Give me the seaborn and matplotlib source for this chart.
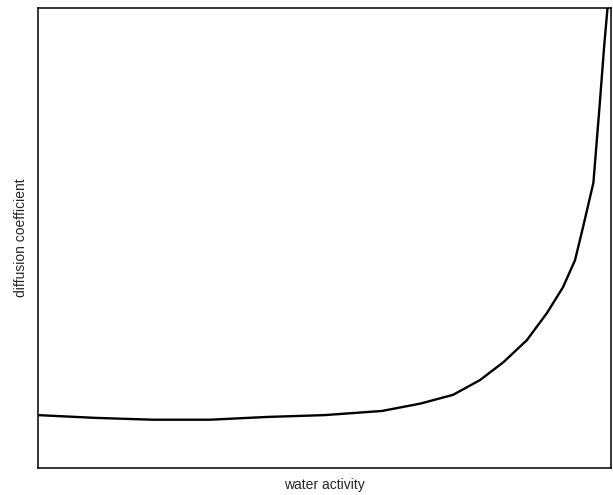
import numpy as np
import pandas as pd
import matplotlib
matplotlib.use("Agg")
import matplotlib.pyplot as plt
import seaborn as sns

# values (axes in relative units 0..1)
water_activity = [0.0, 0.1, 0.2, 0.3, 0.4, 0.5, 0.6, 0.667, 0.724, 0.771, 0.812, 0.853,
                  0.888, 0.916, 0.937, 0.951, 0.969, 0.980, 0.988, 0.994]
diffusion_coef = [0.115, 0.109, 0.105, 0.105, 0.111, 0.115, 0.124, 0.140, 0.159, 0.191, 0.230, 0.278,
                  0.337, 0.393, 0.452, 0.524, 0.620, 0.790, 0.920, 1.005]

df = pd.DataFrame({"water activity": water_activity, "diffusion coefficient": diffusion_coef})

sns.set_style("white")
plt.rcParams['font.family'] = ['Liberation Sans', 'DejaVu Sans']

fig = plt.figure(figsize=(6.13, 4.95), dpi=100)
ax = fig.add_axes([0.062, 0.0545, 0.935, 0.9295])
sns.lineplot(data=df, x="water activity", y="diffusion coefficient", sort=False,
             color="black", linewidth=1.7, ax=ax)
ax.set_xlim(0, 1)
ax.set_ylim(0, 1)
ax.set_xticks([])
ax.set_yticks([])
for s in ax.spines.values():
    s.set_color("black")
    s.set_linewidth(1.1)
ax.set_xlabel("water activity", fontsize=10, labelpad=7)
ax.set_ylabel("diffusion coefficient", fontsize=10, labelpad=7)
fig.savefig("out.png", dpi=100)
